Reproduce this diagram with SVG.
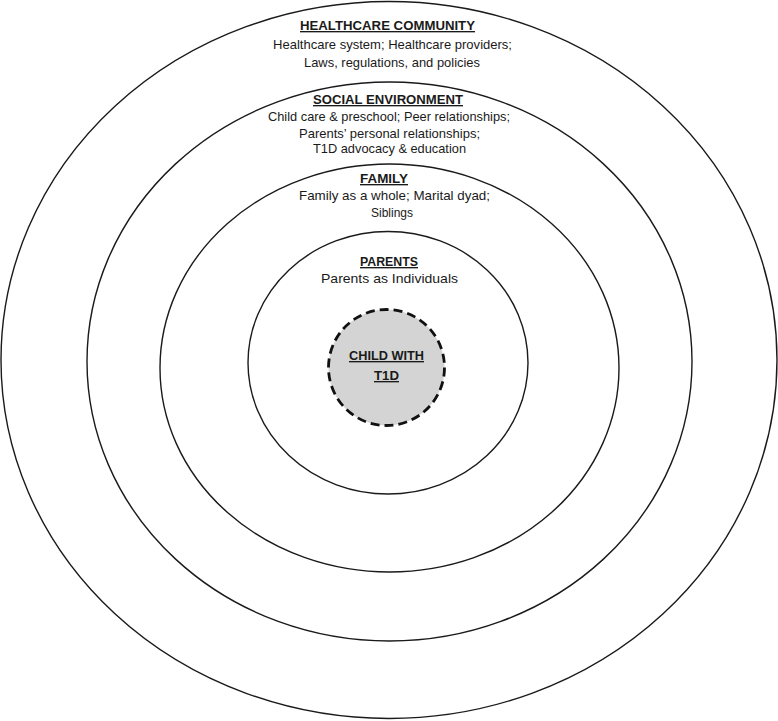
<svg xmlns="http://www.w3.org/2000/svg" width="778" height="721" viewBox="0 0 778 721">
<style>
.ring{fill:none;stroke:#1a1a1a;stroke-width:1.4}
.t{font-family:"Liberation Sans",Arial,sans-serif;font-size:13.5px;fill:#1a1a1a}
.h{font-weight:bold;text-decoration:underline}
</style>
<rect width="778" height="721" fill="#ffffff"/>
<g id="healthcare-community">
<ellipse class="ring" cx="389" cy="360" rx="388" ry="358.5"/>
<text class="t h" x="300" y="30" textLength="175" lengthAdjust="spacingAndGlyphs">HEALTHCARE COMMUNITY</text>
<text class="t" x="273" y="49" textLength="239" lengthAdjust="spacingAndGlyphs">Healthcare system; Healthcare providers;</text>
<text class="t" x="304" y="67" textLength="176" lengthAdjust="spacingAndGlyphs">Laws, regulations, and policies</text>
</g>
<g id="social-environment">
<ellipse class="ring" cx="389.5" cy="361.5" rx="302.5" ry="279.5"/>
<text class="t h" x="313" y="104" textLength="150" lengthAdjust="spacingAndGlyphs">SOCIAL ENVIRONMENT</text>
<text class="t" x="268" y="121" textLength="242" lengthAdjust="spacingAndGlyphs">Child care &amp; preschool; Peer relationships;</text>
<text class="t" x="299" y="138" textLength="181" lengthAdjust="spacingAndGlyphs">Parents’ personal relationships;</text>
<text class="t" x="313" y="153" textLength="153" lengthAdjust="spacingAndGlyphs">T1D advocacy &amp; education</text>
</g>
<g id="family">
<ellipse class="ring" cx="389.5" cy="368" rx="229.5" ry="204"/>
<text class="t h" x="360" y="183" textLength="48" lengthAdjust="spacingAndGlyphs">FAMILY</text>
<text class="t" x="299" y="200" textLength="191" lengthAdjust="spacingAndGlyphs">Family as a whole; Marital dyad;</text>
<text class="t" x="371" y="217" textLength="42" lengthAdjust="spacingAndGlyphs">Siblings</text>
</g>
<g id="parents">
<ellipse class="ring" cx="388" cy="362.75" rx="140" ry="131.25"/>
<text class="t h" x="360" y="266" textLength="58" lengthAdjust="spacingAndGlyphs">PARENTS</text>
<text class="t" x="321" y="283" textLength="137" lengthAdjust="spacingAndGlyphs">Parents as Individuals</text>
</g>
<g id="child">
<circle cx="386.5" cy="367.5" r="58" fill="#d4d4d4" stroke="#111111" stroke-width="2.8" stroke-dasharray="9 5"/>
<text class="t h" x="349" y="360" textLength="75" lengthAdjust="spacingAndGlyphs" font-size="12.5">CHILD WITH</text>
<text class="t h" x="374" y="380" textLength="25" lengthAdjust="spacingAndGlyphs" font-size="12.5">T1D</text>
</g>
<g id="connectors"/>
</svg>
